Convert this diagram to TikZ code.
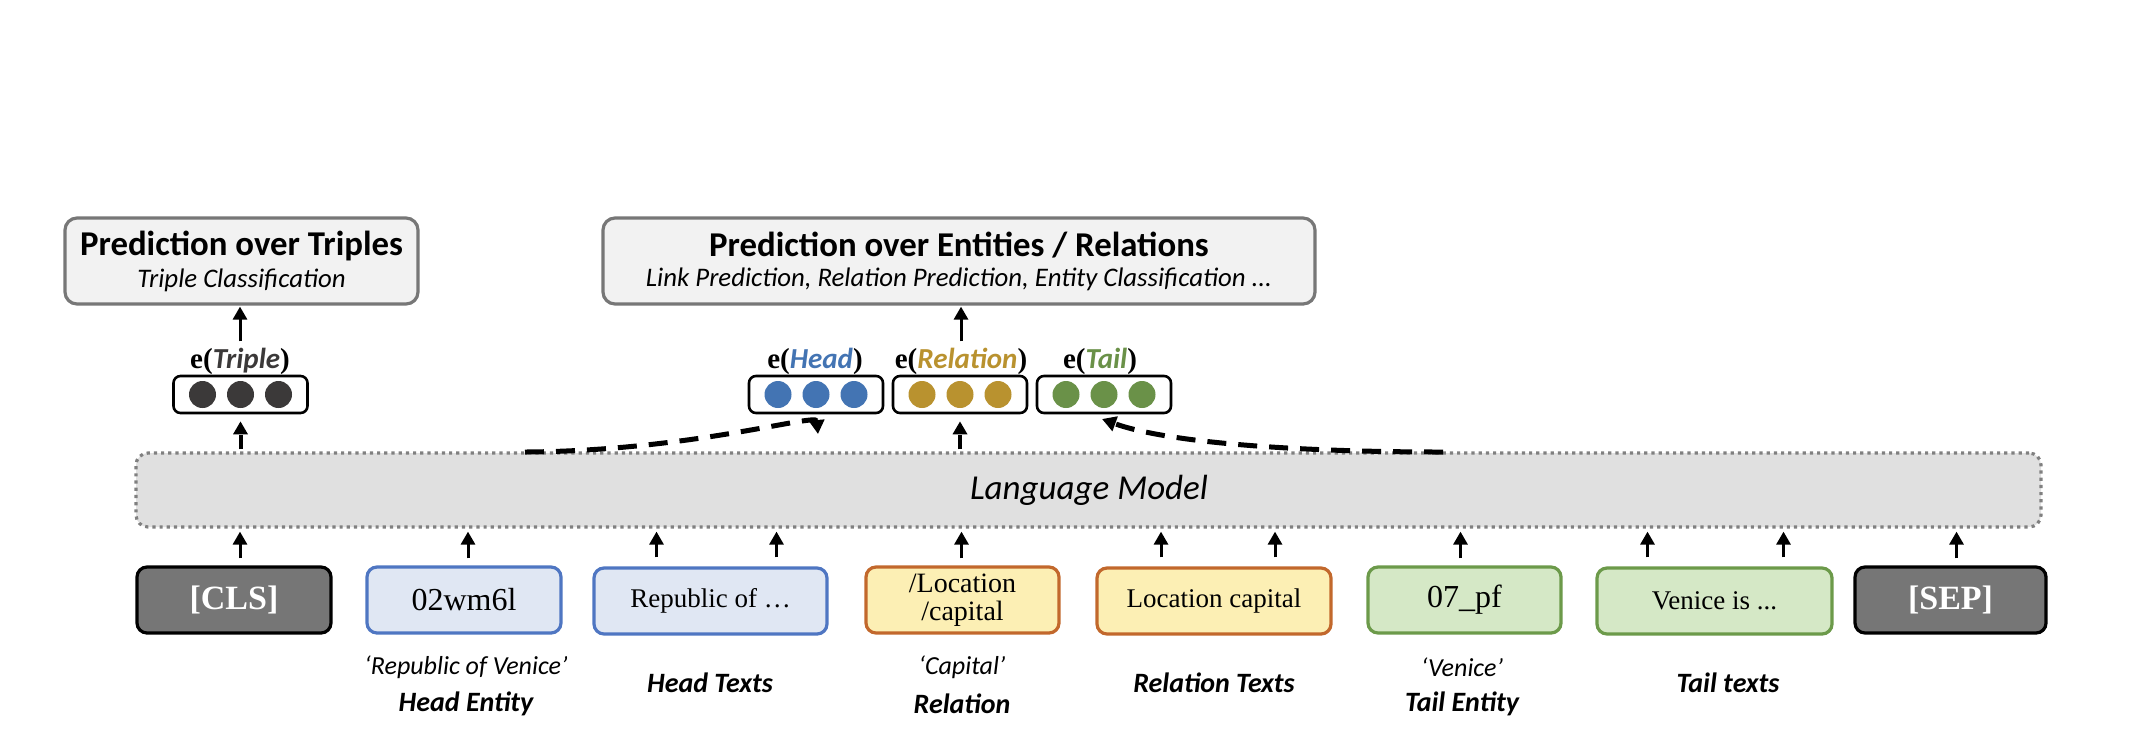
\documentclass[tikz,border=0pt]{standalone}
\usepackage{fontspec}
\setmainfont{Liberation Serif}
\newfontfamily\calib{Carlito}
\usetikzlibrary{arrows.meta}
\definecolor{predfill}{HTML}{F2F2F2}
\definecolor{predline}{HTML}{777777}
\definecolor{lmfill}{HTML}{E0E0E0}
\definecolor{lmline}{HTML}{808080}
\definecolor{clsfill}{HTML}{767676}
\definecolor{bluefill}{HTML}{E0E7F3}
\definecolor{blueline}{HTML}{4F76C2}
\definecolor{yelfill}{HTML}{FCEFB4}
\definecolor{yelline}{HTML}{C2682C}
\definecolor{grnfill}{HTML}{D5E8C6}
\definecolor{grnline}{HTML}{6C9A4A}
\definecolor{cdark}{HTML}{3B3939}
\definecolor{cblue}{HTML}{4374B3}
\definecolor{cgold}{HTML}{B9922F}
\definecolor{cgreen}{HTML}{6A9148}
\begin{document}
\begin{tikzpicture}[x=0.5pt,y=-0.5pt,
  predbox/.style={draw=predline, line width=1.6pt, fill=predfill, rounded corners=6pt, inner sep=0pt, align=center},
  lmbox/.style={draw=lmline, line width=1.6pt, dotted, fill=lmfill, rounded corners=6pt, inner sep=0pt},
  vecbox/.style={draw=black, line width=1.3pt, rounded corners=3.5pt, minimum width=67pt, minimum height=18.5pt, inner sep=0pt},
  dot/.style={circle, minimum size=13.5pt, inner sep=0pt},
  tokbox/.style={line width=1.6pt, rounded corners=5pt, minimum width=#1, minimum height=33pt, inner sep=0pt, align=center, font=\fontsize{13.5}{14}\selectfont},
  elab/.style={inner sep=0pt, font=\fontsize{14.5}{16}\selectfont},
  sublab/.style={inner sep=0pt, font=\calib\itshape\fontsize{13}{15}\selectfont},
  boldlab/.style={inner sep=0pt, font=\calib\bfseries\itshape\fontsize{14}{15}\selectfont},
  solidarr/.style={line width=1.5pt, -{Triangle[width=7pt,length=6.5pt]}},
  dasharr/.style={line width=2.5pt, dash pattern=on 9.5pt off 6pt, -{Triangle[width=7.5pt,length=7pt]}},
  vdash/.style={line width=2pt, dash pattern=on 7pt off 4pt, -{Triangle[width=7pt,length=6.5pt]}}
]
\useasboundingbox (0,0) rectangle (2134,752);

% prediction boxes
\node[predbox, minimum width=176.5pt, minimum height=43pt] (pred1) at (241.5,261)
  {{\calib\bfseries\fontsize{17.4}{19}\selectfont Prediction over Triples}\\[3pt]
   {\calib\itshape\fontsize{13.4}{15}\selectfont Triple Classification}};
\node[predbox, minimum width=356pt, minimum height=43pt] (pred2) at (959,261)
  {{\calib\bfseries\fontsize{17.4}{19}\selectfont Prediction over Entities / Relations}\\[3pt]
   {\calib\itshape\fontsize{13.4}{15}\selectfont Link Prediction, Relation Prediction, Entity Classification ...}};

% embedding labels
\node[elab] (etrip) at (240,361) {\textbf{e(}{\calib\bfseries\itshape\color{cdark}Triple}\textbf{)}};
\node[elab] (ehead) at (815,361) {\textbf{e(}{\calib\bfseries\itshape\color{cblue}Head}\textbf{)}};
\node[elab] (erel) at (961,361) {\textbf{e(}{\calib\bfseries\itshape\color{cgold}Relation}\textbf{)}};
\node[elab] (etail) at (1100,361) {\textbf{e(}{\calib\bfseries\itshape\color{cgreen}Tail}\textbf{)}};

% vector boxes
\node[vecbox] (tvec) at (240.5,394.5) {};
\node[vecbox] (hvec) at (816,394.5) {};
\node[vecbox] (rvec) at (960,394.5) {};
\node[vecbox] (lvec) at (1104,394.5) {};
\foreach \v/\c in {tvec/cdark, hvec/cblue, rvec/cgold, lvec/cgreen}{
  \node[dot, fill=\c] (\v1) at ([xshift=-19pt]\v.center) {};
  \node[dot, fill=\c] (\v2) at (\v.center) {};
  \node[dot, fill=\c] (\v3) at ([xshift=19pt]\v.center) {};
}

% language model
\node[lmbox, minimum width=952.5pt, minimum height=37pt] (lm) at (1088.5,490) {};
\node[inner sep=0pt, font=\calib\itshape\fontsize{17.5}{19}\selectfont] (lmtext) at (1089,490) {Language Model};

% token boxes
\node[tokbox=97pt, draw=black, fill=clsfill, text=white, font=\bfseries\fontsize{17}{18}\selectfont] (cls) at (234,600) {[CLS]};
\node[tokbox=97pt, draw=blueline, fill=bluefill, font=\fontsize{16}{18}\selectfont] (hent) at (464,600) {02wm6l};
\node[tokbox=116.5pt, draw=blueline, fill=bluefill] (htxt) at (710.5,601) {Republic of \ldots};
\node[tokbox=96.5pt, draw=yelline, fill=yelfill, font=\fontsize{14}{14}\selectfont] (rel) at (962.5,600) {/Location\\/capital};
\node[tokbox=117pt, draw=yelline, fill=yelfill] (rtxt) at (1214,601) {Location capital};
\node[tokbox=96.5pt, draw=grnline, fill=grnfill, font=\fontsize{16}{18}\selectfont] (tent) at (1464.5,600) {07\_pf};
\node[tokbox=117.5pt, draw=grnline, fill=grnfill] (ttxt) at (1714.5,601) {Venice is ...};
\node[tokbox=95.5pt, draw=black, fill=clsfill, text=white, font=\bfseries\fontsize{17}{18}\selectfont] (sep) at (1950.5,600) {[SEP]};

% labels below
\node[sublab] (l1a) at (466,667) {‘Republic of Venice’};
\node[boldlab] (l1b) at (466,704) {Head Entity};
\node[boldlab] (l2) at (710,683) {Head Texts};
\node[sublab] (l3a) at (962,667) {‘Capital’};
\node[boldlab] (l3b) at (962,704) {Relation};
\node[boldlab] (l4) at (1214,683) {Relation Texts};
\node[sublab] (l5a) at (1462,667) {‘Venice’};
\node[boldlab] (l5b) at (1462,704) {Tail Entity};
\node[boldlab] (l6) at (1728,683) {Tail texts};

% arrows from tokens to LM
\draw[solidarr, shorten <=3.5pt, shorten >=1.5pt] ([xshift=3pt]cls.north) -- ([xshift=3pt]cls.north |- lm.south);
\draw[solidarr, shorten <=3.5pt, shorten >=1.5pt] ([xshift=2pt]hent.north) -- ([xshift=2pt]hent.north |- lm.south);
\draw[solidarr, shorten <=4.5pt, shorten >=1.5pt] ([xshift=-27pt]htxt.north) -- ([xshift=-27pt]htxt.north |- lm.south);
\draw[solidarr, shorten <=4.5pt, shorten >=1.5pt] ([xshift=33pt]htxt.north) -- ([xshift=33pt]htxt.north |- lm.south);
\draw[solidarr, shorten <=3.5pt, shorten >=1.5pt] ([xshift=-0.5pt]rel.north) -- ([xshift=-0.5pt]rel.north |- lm.south);
\draw[solidarr, shorten <=4.5pt, shorten >=1.5pt] ([xshift=-26.5pt]rtxt.north) -- ([xshift=-26.5pt]rtxt.north |- lm.south);
\draw[solidarr, shorten <=4.5pt, shorten >=1.5pt] ([xshift=30.5pt]rtxt.north) -- ([xshift=30.5pt]rtxt.north |- lm.south);
\draw[solidarr, shorten <=3.5pt, shorten >=1.5pt] ([xshift=-2pt]tent.north) -- ([xshift=-2pt]tent.north |- lm.south);
\draw[solidarr, shorten <=4.5pt, shorten >=1.5pt] ([xshift=-33.5pt]ttxt.north) -- ([xshift=-33.5pt]ttxt.north |- lm.south);
\draw[solidarr, shorten <=4.5pt, shorten >=1.5pt] ([xshift=34.5pt]ttxt.north) -- ([xshift=34.5pt]ttxt.north |- lm.south);
\draw[solidarr, shorten <=3.5pt, shorten >=1.5pt] ([xshift=3pt]sep.north) -- ([xshift=3pt]sep.north |- lm.south);

% arrows to prediction boxes
\draw[solidarr, shorten <=3pt, shorten >=0.5pt] (etrip.north) -- (etrip.north |- pred1.south);
\draw[solidarr, shorten <=3pt, shorten >=0.5pt] (erel.north) -- (erel.north |- pred2.south);

% dashed arrows from LM
\draw[vdash, shorten <=1pt, shorten >=3.5pt] (tvec.south |- lm.north) -- (tvec.south);
\draw[vdash, shorten <=1pt, shorten >=3.5pt] (rvec.south |- lm.north) -- (rvec.south);
\coordinate (hstart) at (525,452);
\coordinate (hend) at (818,434);
\coordinate (tstart) at (1443,452);
\coordinate (tend) at (1102,419);
\draw[dasharr] (hstart) .. controls (690,451) and (816,413) .. (hend);
\draw[dasharr] (tstart) .. controls (1290,452) and (1165,442) .. (tend);
\end{tikzpicture}
\end{document}
